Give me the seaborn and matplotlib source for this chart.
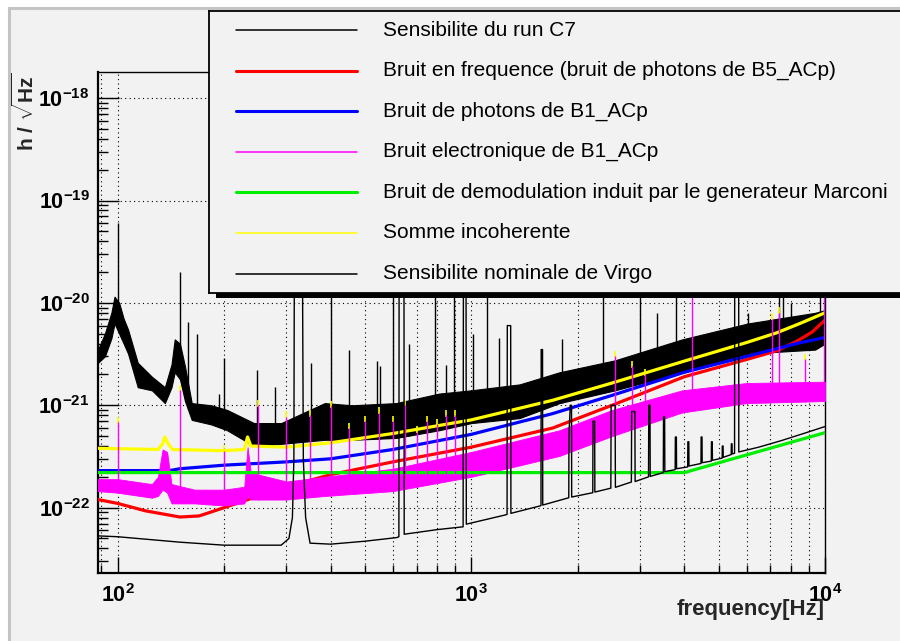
import numpy as np
import matplotlib
matplotlib.use("Agg")
import matplotlib.pyplot as plt
import matplotlib.ticker as mticker
from matplotlib.patches import Rectangle
import seaborn as sns

W, H = 900, 641
BG = "#f2f2f2"

# ── Data (Hz, h / sqrt(Hz)) ────────────────────────────────────
# Sensibilite du run C7 : noisy band (upper / lower envelope) + lines
c7_f  = [88, 92, 96, 98, 101, 104, 107, 114, 125, 136, 142, 145, 150, 155, 162,
         184, 204, 243, 290, 385, 460, 613, 810, 1000, 1370, 1775, 2550, 3945,
         6060, 9380, 10000]
c7_hi = [3.5e-21, 5e-21, 8e-21, 1.15e-20, 1e-20, 7e-21, 5.5e-21, 2.6e-21, 1.9e-21,
         1.5e-21, 2.5e-21, 4.4e-21, 4e-21, 2.4e-21, 1.05e-21, 1.0e-21, 9e-22,
         6.7e-22, 6.7e-22, 1.05e-21, 1.0e-21, 1.05e-21, 1.3e-21, 1.4e-21, 1.6e-21,
         2.1e-21, 2.75e-21, 4.4e-21, 6.3e-21, 8e-21, 8.5e-21]
c7_lo = [2.6e-21, 3e-21, 4.5e-21, 6.3e-21, 5e-21, 4e-21, 3.2e-21, 1.5e-21, 1.4e-21,
         1.05e-21, 1.5e-21, 2.1e-21, 1.8e-21, 1.1e-21, 7.2e-22, 6.5e-22, 5.7e-22,
         4e-22, 4.2e-22, 4.6e-22, 4.6e-22, 4.8e-22, 5.7e-22, 6.7e-22, 7.5e-22,
         1.05e-21, 1.4e-21, 2.1e-21, 3.2e-21, 3.5e-21, 4e-21]
c7_spike_f   = [100, 150, 158, 168, 193, 200, 248, 278, 351, 402, 450, 540, 553,
                600, 665, 790, 850, 895, 1010, 1110, 1200, 1800, 2360, 3000, 3340,
                3800, 6060, 7400, 7600, 8000, 9700]
c7_spike_top = [6e-20, 2e-20, 6.5e-21, 5e-21, 1.3e-21, 2.9e-21, 2.2e-21, 1.5e-21,
                2.6e-21, 3e-20, 3.5e-21, 2.7e-21, 2.4e-21, 3e-20, 4e-21, 3e-20,
                2.5e-21, 3e-20, 5e-21, 3e-20, 4.5e-21, 4.4e-21, 3e-20, 3e-20,
                8e-21, 3e-20, 8e-21, 3e-20, 3e-20, 1e-20, 3e-20]

# Bruit en frequence (bruit de photons de B5_ACp)
red_f = [88, 100, 120, 150, 170, 200, 250, 300, 400, 600, 1000, 1700, 2500, 4000,
         6000, 7300, 8300, 9200, 10000]
red_h = [1.2e-22, 1.1e-22, 9.3e-23, 8.1e-23, 8.3e-23, 1.0e-22, 1.3e-22, 1.6e-22,
         2.1e-22, 2.8e-22, 3.9e-22, 6.0e-22, 1.0e-21, 1.9e-21, 2.8e-21, 3.4e-21,
         4.2e-21, 5.2e-21, 6.8e-21]

# Bruit de photons de B1_ACp
blue_f = [88, 140, 150, 200, 300, 400, 600, 1000, 1700, 2500, 4000, 6000, 8300, 10000]
blue_h = [2.3e-22, 2.3e-22, 2.4e-22, 2.6e-22, 2.8e-22, 3.0e-22, 3.7e-22, 5.2e-22,
          8.3e-22, 1.25e-21, 2.1e-21, 3.0e-21, 4.0e-21, 4.6e-21]

# Bruit electronique de B1_ACp : noisy band + 50 Hz harmonics
pink_f  = [88, 100, 125, 130, 134, 138, 142, 165, 200, 228, 233, 238, 300, 385,
           600, 1000, 1775, 2500, 3945, 6000, 10000]
pink_hi = [1.9e-22, 1.9e-22, 1.7e-22, 2e-22, 3.7e-22, 3.5e-22, 1.7e-22, 1.5e-22,
           1.5e-22, 1.6e-22, 3.9e-22, 2.2e-22, 1.8e-22, 2e-22, 2.4e-22, 3.5e-22,
           5.7e-22, 9e-22, 1.4e-21, 1.65e-21, 1.7e-21]
pink_lo = [1.45e-22, 1.4e-22, 1.25e-22, 1.3e-22, 1.5e-22, 1.4e-22, 1.1e-22, 1.1e-22,
           1.05e-22, 1.1e-22, 1.3e-22, 1.2e-22, 1.2e-22, 1.3e-22, 1.45e-22, 2e-22,
           3.2e-22, 5e-22, 8.5e-22, 1.05e-21, 1.1e-21]
pink_spike_f   = [100, 150, 200, 250, 300, 350, 400, 450, 500, 550, 600, 650, 700,
                  750, 800, 850, 900, 2550, 2850, 3100, 4200, 7070, 7400, 8800, 9950]
pink_spike_top = [6.8e-22, 1.4e-21, 3.6e-22, 1e-21, 7.7e-22, 8e-22, 9.8e-22, 6e-22,
                  7e-22, 8.5e-22, 7e-22, 1e-21, 5.5e-22, 7e-22, 6.5e-22, 8e-22,
                  8e-22, 3e-21, 2.4e-21, 2e-21, 2e-20, 7e-21, 8e-21, 2.8e-21, 2e-20]

# Bruit de demodulation induit par le generateur Marconi
green_f = [88, 4000, 10000]
green_h = [2.2e-22, 2.2e-22, 5.4e-22]

# Somme incoherente
yellow_f = [88, 130, 134, 136, 139, 143, 200, 228, 233, 238, 300, 400, 600, 1000,
            1700, 2500, 4000, 6000, 7300, 8500, 10000]
yellow_h = [3.8e-22, 3.7e-22, 4.2e-22, 4.9e-22, 4.2e-22, 3.7e-22, 3.6e-22, 3.7e-22,
            4.9e-22, 4.0e-22, 3.9e-22, 4.3e-22, 5.3e-22, 7.2e-22, 1.12e-21, 1.65e-21,
            2.7e-21, 4.1e-21, 5.1e-21, 6.3e-21, 8e-21]

# Sensibilite nominale de Virgo (with violin-mode resonances)
nom_f = [88, 100, 150, 200, 290, 305, 312, 315, 316, 333, 335, 340, 350, 400, 500,
         615, 624, 625, 645, 646, 800, 948, 950, 966, 968, 1250, 1262, 1264, 1292,
         1294, 1565, 1574, 1576, 1590, 1592, 1886, 1888, 1905, 1920, 1922, 2205,
         2208, 2232, 2235, 2480, 2485, 2550, 2555, 2835, 2840, 2900, 2905, 3170,
         3175, 3200, 3205, 3490, 3495, 3520, 3525, 3770, 3775, 3800, 3805, 4090,
         4095, 4120, 4125, 4460, 4465, 4490, 4495, 4770, 4775, 4800, 4805, 5120,
         5125, 5150, 5155, 5430, 5435, 5460, 5465, 5550, 5555, 5700, 5705, 6500,
         7500, 8700, 10000]
nom_h = [5.3e-23, 5.2e-23, 4.6e-23, 4.3e-23, 4.3e-23, 5.0e-23, 8e-23, 3e-22, 3e-20,
         3e-20, 3e-22, 8e-23, 4.5e-23, 4.4e-23, 4.7e-23, 5.1e-23, 5.2e-23, 3e-20,
         3e-20, 5.5e-23, 6.1e-23, 6.5e-23, 3e-20, 3e-20, 6.9e-23, 8.5e-23, 8.6e-23,
         6e-21, 6e-21, 8.8e-23, 1.04e-22, 1.05e-22, 3.5e-21, 3.5e-21, 1.06e-22,
         1.25e-22, 5.1e-22, 1e-21, 1e-21, 1.27e-22, 1.4e-22, 7e-22, 7e-22, 1.42e-22,
         1.55e-22, 1e-21, 1e-21, 1.58e-22, 1.78e-22, 8.7e-22, 8.7e-22, 1.8e-22,
         2e-22, 1e-21, 1e-21, 2.02e-22, 2.2e-22, 7.7e-22, 7.7e-22, 2.25e-22,
         2.35e-22, 4.9e-22, 4.9e-22, 2.4e-22, 2.5e-22, 4.4e-22, 4.4e-22, 2.55e-22,
         2.7e-22, 4.9e-22, 4.9e-22, 2.75e-22, 2.85e-22, 4.4e-22, 4.4e-22, 2.9e-22,
         3.05e-22, 4e-22, 4e-22, 3.1e-22, 3.3e-22, 4.2e-22, 4.2e-22, 3.35e-22,
         3.4e-22, 3e-20, 3e-20, 3.5e-22, 3.9e-22, 4.5e-22, 5.3e-22, 6.2e-22]

x_major = [1e2, 1e3, 1e4]
y_major = [1e-22, 1e-21, 1e-20, 1e-19, 1e-18]

LABELS = [
    "Sensibilite du run C7",
    "Bruit en frequence (bruit de photons de B5_ACp)",
    "Bruit de photons de B1_ACp",
    "Bruit electronique de B1_ACp",
    "Bruit de demodulation induit par le generateur Marconi",
    "Somme incoherente",
    "Sensibilite nominale de Virgo",
]
COLORS = ["black", "#ff0000", "#0000ff", "#ff00ff", "#00ee00", "#ffff00", "black"]
LEG_LW = [1.1, 2.2, 2.2, 1.1, 2.2, 1.1, 1.1]

# ── Style ──────────────────────────────────────────────────
sns.set_theme(style="ticks")
plt.rcParams.update({
    "font.family"      : "Liberation Sans",
    "mathtext.fontset" : "custom",
    "mathtext.rm"      : "Liberation Sans",
    "mathtext.bf"      : "Liberation Sans:bold",
    "mathtext.it"      : "Liberation Sans:italic",
    "figure.facecolor" : "white",
    "axes.facecolor"   : BG,
    "axes.edgecolor"   : "black",
    "text.color"       : "black",
    "xtick.color"      : "black",
    "ytick.color"      : "black",
})

fig = plt.figure(figsize=(W / 100, H / 100), dpi=100)

# canvas frame (ROOT-like grey border)
fig.add_artist(Rectangle((8.5 / W, -0.05), 1.2, 1.05 - 8.5 / H,
                         transform=fig.transFigure, facecolor=BG,
                         edgecolor="#c4c4c4", lw=2.2, zorder=-5))

ax = fig.add_axes([98 / W, 1 - 573 / H, (825 - 98) / W, (573 - 72) / H])
ax.set_facecolor(BG)
ax.set_xscale("log")
ax.set_yscale("log")
ax.set_xlim(88, 10000)
ax.set_ylim(2.3e-23, 1.8e-18)

# C7 band + lines
ax.fill_between(c7_f, c7_lo, c7_hi, color="black", lw=0.8, zorder=2)
c7_base = 10 ** np.interp(np.log10(c7_spike_f), np.log10(c7_f), np.log10(c7_lo))
ax.vlines(c7_spike_f, c7_base, c7_spike_top, color="black", lw=1.0, zorder=2)

sns.lineplot(x=red_f, y=red_h, ax=ax, color=COLORS[1], lw=2.3, zorder=3)
sns.lineplot(x=blue_f, y=blue_h, ax=ax, color=COLORS[2], lw=2.3, zorder=3)

# electronic noise band
ax.fill_between(pink_f, pink_lo, pink_hi, color=COLORS[3], lw=0.6, zorder=4)
sns.lineplot(x=green_f, y=green_h, ax=ax, color=COLORS[4], lw=2.3, zorder=5)
sns.lineplot(x=yellow_f, y=yellow_h, ax=ax, color=COLORS[5], lw=2.3, zorder=6)

pink_base = 10 ** np.interp(np.log10(pink_spike_f), np.log10(pink_f), np.log10(pink_lo))
ax.vlines(pink_spike_f, np.array(pink_spike_top) * 0.97,
          np.array(pink_spike_top) * 1.13, color=COLORS[5], lw=1.2, zorder=6)
ax.vlines(pink_spike_f, pink_base, pink_spike_top, color=COLORS[3], lw=1.0, zorder=7)

sns.lineplot(x=nom_f, y=nom_h, ax=ax, color="black", lw=1.0, zorder=8,
             sort=False, estimator=None)

# axes look (ROOT style)
ax.grid(which="both", axis="x", color="black", ls=(0, (1, 3)), lw=0.8)
ax.grid(which="major", axis="y", color="black", ls=(0, (1, 3)), lw=0.8)
ax.set_axisbelow(True)
ax.xaxis.set_major_locator(mticker.FixedLocator(x_major))
ax.yaxis.set_major_locator(mticker.FixedLocator(y_major))
ax.xaxis.set_minor_locator(mticker.FixedLocator(
    [m * d for d in (10, 100, 1000) for m in range(2, 10)
     if 88 <= m * d <= 10000]))
ax.yaxis.set_minor_locator(mticker.FixedLocator(
    [m * d for d in (1e-23, 1e-22, 1e-21, 1e-20, 1e-19, 1e-18) for m in range(2, 10)
     if 2.3e-23 <= m * d <= 1.8e-18]))
fmt = mticker.FuncFormatter(lambda v, p: r"$\mathbf{10^{%d}}$" % round(np.log10(v)))
ax.xaxis.set_major_formatter(fmt)
ax.yaxis.set_major_formatter(fmt)
ax.xaxis.set_minor_formatter(mticker.NullFormatter())
ax.yaxis.set_minor_formatter(mticker.NullFormatter())
ax.tick_params(which="both", direction="in", top=False, right=False,
               labelsize=15.5, width=1.0)
ax.tick_params(axis="x", which="major", length=11.5, pad=8)
ax.tick_params(axis="x", which="minor", length=6)
ax.tick_params(axis="y", which="major", length=15, pad=6)
ax.tick_params(axis="y", which="minor", length=7.5)
for side in ["left", "bottom"]:
    ax.spines[side].set_linewidth(1.6)
for side in ["top", "right"]:
    ax.spines[side].set_linewidth(1.0)

ax.set_xlabel("frequency[Hz]", fontsize=16, fontweight="bold", loc="right")
ax.xaxis.set_label_coords(1.0, -0.052)
ax.set_ylabel(r"h / $\sqrt{\mathbf{Hz}}$", fontsize=15, fontweight="bold", loc="top")
ax.yaxis.set_label_coords(-0.082, 1.0)

# ── Legend box (TLegend look: solid shadow, cut by the canvas edge) ──
fig.add_artist(Rectangle((216 / W, 1 - 298 / H), 1.0, (298 - 17) / H,
                         transform=fig.transFigure, facecolor="black",
                         edgecolor="none", zorder=2))
lax = fig.add_axes([209 / W, 1 - 293 / H, 1.0, (293 - 11) / H], zorder=3)
lax.set_facecolor(BG)
lax.set_xlim(209, 209 + W)
lax.set_ylim(293, 11)
lax.set_xticks([])
lax.set_yticks([])
for s in lax.spines.values():
    s.set_linewidth(1.3)
    s.set_color("black")
row_y = 30
for lab, col, lw in zip(LABELS, COLORS, LEG_LW):
    lax.plot([236, 357], [row_y, row_y], color=col, lw=lw)
    lax.text(383, row_y, lab, fontsize=15, va="center", ha="left")
    row_y += 40.6

fig.savefig("out.png", dpi=100)
